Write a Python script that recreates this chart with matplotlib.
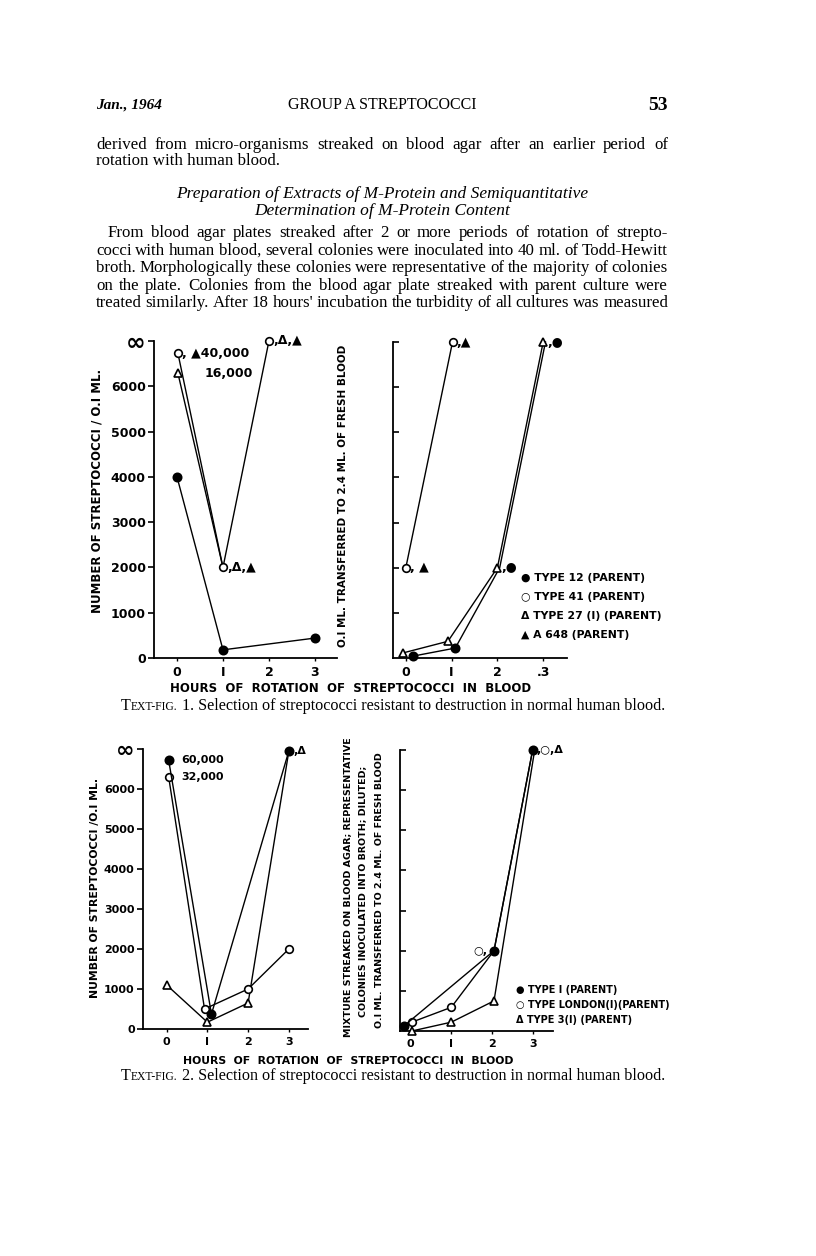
import matplotlib
matplotlib.use('Agg')
import matplotlib.pyplot as plt

W, H = 816, 1256
plt.rcParams['font.family'] = ['DejaVu Sans']
fig = plt.figure(figsize=(W / 100, H / 100), dpi=100)
fig.patch.set_facecolor('white')
renderer = fig.canvas.get_renderer()

SERIF = ['Liberation Serif', 'DejaVu Serif']
SANS = ['DejaVu Sans']

# ---------------- data ----------------
hours = [0, 1, 2, 3]
f1l_xlabels = ['0', 'I', '2', '3']
f1r_xlabels = ['0', 'I', '2', '.3']
f2_xlabels = ['0', 'I', '2', '3']
count_ticks = [0, 1000, 2000, 3000, 4000, 5000, 6000, 7000]
count_labels = ['0', '1000', '2000', '3000', '4000', '5000', '6000', '∞']

# Text-fig 1, left panel
f1l_t12_x = [0, 1, 3]
f1l_t12_y = [4000, 180, 440]
f1l_t41_x = [0.02, 1, 2]
f1l_t41_y = [6730, 2000, 7000]
f1l_t27_x = [0.02, 1]
f1l_t27_y = [6290, 2000]

# Text-fig 1, right panel
f1r_t12_x = [0.15, 1.08, 2.05, 3.05]
f1r_t12_y = [40, 220, 2000, 7000]
f1r_t27_x = [-0.07, 0.92, 2.0, 3.0]
f1r_t27_y = [110, 370, 2000, 7000]
f1r_t41_x = [0, 1.02]
f1r_t41_y = [2000, 7000]

# Text-fig 2, left panel
f2l_t1_x = [0.05, 1.1, 3.0]
f2l_t1_y = [6720, 370, 6950]
f2l_lon_x = [0.05, 0.93, 2.0, 3.0]
f2l_lon_y = [6300, 500, 1000, 2000]
f2l_t3_x = [0, 1, 2, 3]
f2l_t3_y = [1100, 170, 650, 6950]

# Text-fig 2, right panel
f2r_t1_x = [-0.17, 2.05, 3.0]
f2r_t1_y = [120, 2000, 7000]
f2r_lon_x = [0.03, 1.0, 2.05, 3.0]
f2r_lon_y = [220, 590, 2000, 7000]
f2r_t3_x = [0.03, 1.0, 2.05, 3.05]
f2r_t3_y = [0, 220, 750, 7000]

legend1 = ['● TYPE 12 (PARENT)', '○ TYPE 41 (PARENT)', 'Δ TYPE 27 (I) (PARENT)', '▲ A 648 (PARENT)']
legend2 = ['● TYPE I (PARENT)', '○ TYPE LONDON(I)(PARENT)', 'Δ TYPE 3(I) (PARENT)']


# ---------------- helpers ----------------
def fx(x):
    return x / W


def fy(y):
    return 1 - y / H


def add_axes(l, r, b, t):
    return fig.add_axes([l / W, 1 - b / H, (r - l) / W, (b - t) / H])


def ftext(x, y, s, **kw):
    return fig.text(fx(x), fy(y), s, **kw)


def justify(line, x0, x1, y, size, style='normal'):
    words = line.split()
    ts = [ftext(0, y, w, fontsize=size, family=SERIF, style=style, va='center', ha='left') for w in words]
    widths = [t.get_window_extent(renderer).width for t in ts]
    gap = (x1 - x0 - sum(widths)) / max(len(words) - 1, 1)
    if gap < 3:
        sc = (x1 - x0 - 3 * (len(words) - 1)) / sum(widths)
        for t in ts:
            t.set_fontsize(size * sc)
        widths = [w * sc for w in widths]
        gap = 3
    x = x0
    for t, w in zip(ts, widths):
        t.set_x(fx(x))
        x += w + gap


def pieces(parts, xc, y):
    ts = [ftext(0, y, s, fontsize=sz, family=SERIF, va='baseline', ha='left') for s, sz in parts]
    widths = [t.get_window_extent(renderer).width for t in ts]
    x = xc - sum(widths) / 2
    for t, w in zip(ts, widths):
        t.set_x(fx(x))
        x += w


LW = 1.0
MS = 6


def style_axes(ax, xlim, xlabels, labels_y, tick_dir, fs):
    ax.set_xlim(*xlim)
    ax.set_ylim(0, 7000)
    for s in ['top', 'right']:
        ax.spines[s].set_visible(False)
    for s in ['left', 'bottom']:
        ax.spines[s].set_linewidth(1.3)
    ax.set_xticks(hours)
    ax.set_xticklabels(xlabels, fontsize=fs, fontweight='bold', family=SANS)
    ax.tick_params(axis='x', length=2.5, width=1, pad=3)
    if labels_y:
        ax.set_yticks(count_ticks)
        ax.set_yticklabels(count_labels, fontsize=fs, fontweight='bold', family=SANS)
        lab = ax.get_yticklabels()[-1]
        lab.set_fontsize(fs + 8)
        ax.tick_params(axis='y', direction=tick_dir, length=4, width=1.2, pad=2)
    else:
        ax.set_yticks(count_ticks[1:])
        ax.set_yticklabels([])
        ax.tick_params(axis='y', direction=tick_dir, length=4, width=1.2)
    ax.patch.set_alpha(0)


def line(ax, x, y, marker, filled, markevery=None, ms=MS):
    ax.plot(x, y, color='black', lw=LW, marker=marker, ms=ms,
            mfc='black' if filled else 'white', mec='black', mew=1.2,
            markevery=markevery, clip_on=False, zorder=3)


def lab(ax, x, y, s, dx=4, fs=9, dy=0):
    ax.annotate(s, (x, y), xytext=(dx, dy), textcoords='offset points', va='center', ha='left',
                fontsize=fs, fontweight='bold', family=SANS, annotation_clip=False)


# ---------------- page text ----------------
ftext(96, 105, 'Jan., 1964', fontsize=11, family=SERIF, style='italic', weight='bold', va='center')
ftext(382, 105, 'GROUP A STREPTOCOCCI', fontsize=11.5, family=SERIF, va='center', ha='center')
ftext(668, 105, '53', fontsize=14, family=SERIF, weight='bold', va='center', ha='right')

BS = 12.2
justify('derived from micro-organisms streaked on blood agar after an earlier period of', 96, 668, 145, BS)
ftext(96, 161, 'rotation with human blood.', fontsize=BS, family=SERIF, va='center')
ftext(382, 194, 'Preparation of Extracts of M-Protein and Semiquantitative', fontsize=BS + 0.3, family=SERIF,
      style='italic', va='center', ha='center')
ftext(382, 211, 'Determination of M-Protein Content', fontsize=BS + 0.3, family=SERIF,
      style='italic', va='center', ha='center')
para = ['From blood agar plates streaked after 2 or more periods of rotation of strepto-',
        'cocci with human blood, several colonies were inoculated into 40 ml. of Todd-Hewitt',
        'broth. Morphologically these colonies were representative of the majority of colonies',
        'on the plate. Colonies from the blood agar plate streaked with parent culture were',
        "treated similarly. After 18 hours' incubation the turbidity of all cultures was measured"]
for i, ln in enumerate(para):
    justify(ln, 108 if i == 0 else 96, 668, 233 + i * 17.6, BS)

pieces([('T', 11.6), ('EXT-FIG.', 8.4), (' 1. Selection of streptococci resistant to destruction in normal human blood.', 11.6)],
       393, 710)
pieces([('T', 11.6), ('EXT-FIG.', 8.4), (' 2. Selection of streptococci resistant to destruction in normal human blood.', 11.6)],
       393, 1080)

# ---------------- Text-fig 1 ----------------
ax = add_axes(154, 337, 658, 341)
style_axes(ax, (-0.5, 3.48), f1l_xlabels, True, 'out', 9)
line(ax, f1l_t12_x, f1l_t12_y, 'o', True)
line(ax, f1l_t27_x, f1l_t27_y, '^', False, markevery=[0])
line(ax, f1l_t41_x, f1l_t41_y, 'o', False, ms=5.5)
lab(ax, f1l_t41_x[0], f1l_t41_y[0], ', ▲40,000', dx=3)
lab(ax, f1l_t27_x[0], f1l_t27_y[0], '16,000', dx=19)
lab(ax, f1l_t41_x[1], f1l_t41_y[1], ',Δ,▲', dx=3)
lab(ax, f1l_t41_x[2], f1l_t41_y[2], ',Δ,▲', dx=3)

ax = add_axes(393, 567, 658, 342)
style_axes(ax, (-0.28, 3.52), f1r_xlabels, False, 'in', 9)
line(ax, f1r_t12_x, f1r_t12_y, 'o', True, markevery=[0, 1])
line(ax, f1r_t27_x, f1r_t27_y, '^', False)
line(ax, f1r_t41_x, f1r_t41_y, 'o', False, ms=5.5)
lab(ax, f1r_t41_x[0], f1r_t41_y[0], ', ▲', dx=3)
lab(ax, f1r_t41_x[1], f1r_t41_y[1], ',▲', dx=3)
lab(ax, f1r_t27_x[2], f1r_t27_y[2], ',●', dx=3)
lab(ax, f1r_t27_x[3], f1r_t27_y[3], ',●', dx=3)

ftext(97, 491, 'NUMBER OF STREPTOCOCCI / O.I ML.', rotation=90, fontsize=8.5, weight='bold',
      ha='center', va='center', family=SANS)
ftext(343, 496, 'O.I ML. TRANSFERRED TO 2.4 ML. OF FRESH BLOOD', rotation=90, fontsize=7.5,
      weight='bold', ha='center', va='center', family=SANS)
ftext(351, 689, 'HOURS  OF  ROTATION  OF  STREPTOCOCCI  IN  BLOOD', fontsize=8.5, weight='bold',
      ha='center', va='center', family=SANS)
for i, s in enumerate(legend1):
    ftext(521, 578 + i * 19, s, fontsize=7.8, weight='bold', va='center', family=SANS)

# ---------------- Text-fig 2 ----------------
ax = add_axes(143, 308, 1029, 749)
style_axes(ax, (-0.58, 3.47), f2_xlabels, True, 'out', 8)
line(ax, f2l_t3_x, f2l_t3_y, '^', False, markevery=[0, 1, 2])
line(ax, f2l_lon_x, f2l_lon_y, 'o', False, ms=5.5)
line(ax, f2l_t1_x, f2l_t1_y, 'o', True)
lab(ax, f2l_t1_x[0], f2l_t1_y[0], '60,000', dx=9, fs=8)
lab(ax, f2l_lon_x[0], f2l_lon_y[0], '32,000', dx=9, fs=8)
lab(ax, f2l_t1_x[2], f2l_t1_y[2], ',Δ', dx=3, fs=8)

ax = add_axes(400, 553, 1031, 750)
style_axes(ax, (-0.26, 3.5), f2_xlabels, False, 'in', 8)
line(ax, f2r_t3_x, f2r_t3_y, '^', False, markevery=[0, 1, 2])
line(ax, f2r_lon_x, f2r_lon_y, 'o', False, markevery=[0, 1], ms=5.5)
line(ax, f2r_t1_x, f2r_t1_y, 'o', True)
lab(ax, f2r_t1_x[2], f2r_t1_y[2], ',○,Δ', dx=3, fs=8)
ax.annotate('○,', (f2r_t1_x[1], f2r_t1_y[1]), xytext=(-5, 0), textcoords='offset points',
            va='center', ha='right', fontsize=8, fontweight='bold', family=SANS, annotation_clip=False)

ftext(95, 888, 'NUMBER OF STREPTOCOCCI /O.I ML.', rotation=90, fontsize=7.8, weight='bold',
      ha='center', va='center', family=SANS)
ylab2 = ['MIXTURE STREAKED ON BLOOD AGAR; REPRESENTATIVE',
         'COLONIES INOCULATED INTO BROTH; DILUTED;',
         'O.I ML. TRANSFERRED TO 2.4 ML. OF FRESH BLOOD']
for s, x, y in zip(ylab2, [348, 363, 379], [887, 891, 890]):
    ftext(x, y, s, rotation=90, fontsize=6.8, weight='bold', ha='center', va='center', family=SANS)
ftext(348, 1061, 'HOURS  OF  ROTATION  OF  STREPTOCOCCI  IN  BLOOD', fontsize=7.8, weight='bold',
      ha='center', va='center', family=SANS)
for i, s in enumerate(legend2):
    ftext(516, 990 + i * 15, s, fontsize=7, weight='bold', va='center', family=SANS)

fig.savefig('out.png', dpi=100, facecolor='white')
